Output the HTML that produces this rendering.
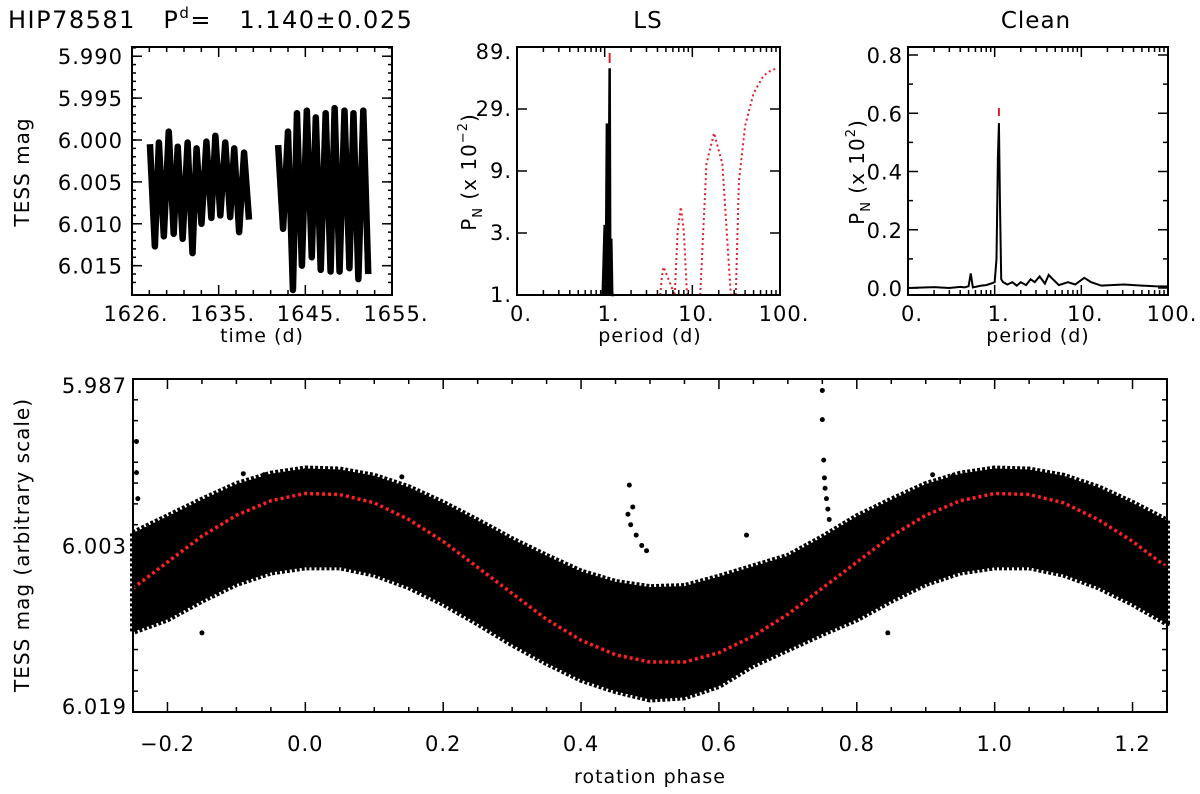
<!DOCTYPE html>
<html><head><meta charset="utf-8"><style>
html,body{margin:0;padding:0;background:#fff}
svg{display:block;font-family:"DejaVu Sans","Liberation Sans",sans-serif}
</style></head><body>
<svg id="fig" width="1200" height="794" viewBox="0 0 1200 794">
<text x="8" y="28" font-size="24" letter-spacing="1.5">HIP78581&#160;&#160;&#160;P<tspan font-size="15" dy="-10">d</tspan><tspan dy="10">=&#160;&#160;&#160;1.140±0.025</tspan></text>
<text x="648" y="28" font-size="23" letter-spacing="1" text-anchor="middle">LS</text>
<text x="1036" y="28" font-size="23" letter-spacing="1" text-anchor="middle">Clean</text>
<g id="g"></g>
</svg>
<script>
// ---------- data ----------
const lcTimes1=[1628.0,1629.0,1630.1,1631.1,1632.2,1633.2,1634.3,1635.3,1636.4,1637.4,1638.5];
const lcTop1=[6.0005,6.0003,5.9990,6.0008,6.0003,6.0010,6.0002,5.9995,6.0003,6.0010,6.0015];
const lcBot1=[6.0127,6.0115,6.0112,6.0118,6.0135,6.0100,6.0093,6.0090,6.0092,6.0110,6.0095];
const lcTimes2=[1642.3,1643.4,1644.4,1645.5,1646.5,1647.6,1648.6,1649.7,1650.7,1651.8];
const lcTop2=[6.0006,5.9990,5.9968,5.9965,5.9973,5.9968,5.9962,5.9965,5.9968,5.9965];
const lcBot2=[6.0106,6.0179,6.0150,6.0140,6.0155,6.0157,6.0157,6.0153,6.0166,6.0160];
const timeTicks=["1626.","1635.","1645.","1655."];
const magTicks=[5.990,5.995,6.000,6.005,6.010,6.015];

const lsPeriod=[0.95,1.0,1.03,1.06,1.09,1.12,1.14,1.16,1.19,1.22,1.25,1.28];
const lsPower=[1,3.6,1,23,1,8.5,63,1,2.8,1,1,1];
const lsArc1P=[4.3,4.5,4.7,5.2,6.3];const lsArc1V=[1,1.4,1.67,1.4,1];
const lsArc2P=[6.3,6.8,7.4,8.0,8.7];const lsArc2V=[1,3.2,5.0,3.2,1];
const lsArc3P=[12.3,14.5,17.7,22,27.5];const lsArc3V=[1,11,19.3,11,1];
const lsArc4P=[31.3,34,40,50,65,80,95];const lsArc4V=[1,8,22,40,55,61,63];
const lsTicks=["1.","3.","9.","29.","89."];
const perTicks=["0.","1.","10.","100."];

const clPeriod=[0.1,0.2,0.3,0.4,0.45,0.5,0.53,0.56,0.6,0.7,0.8,0.9,1.0,1.05,1.09,1.12,1.15,1.19,1.25,1.4,1.6,1.8,2.0,2.3,2.6,2.9,3.3,3.8,4.2,4.7,5.5,7,8.5,10.8,13,17,22,31,45,70,100];
const clPower=[0.0,0.003,0.0,0.004,0.002,0.006,0.05,0.002,0.004,0.008,0.01,0.015,0.02,0.1,0.45,0.566,0.3,0.03,0.02,0.012,0.02,0.008,0.02,0.01,0.03,0.02,0.04,0.015,0.045,0.03,0.01,0.02,0.012,0.035,0.02,0.008,0.01,0.012,0.009,0.006,0.005];
const clTicks=["0.0","0.2","0.4","0.6","0.8"];

const phaseGrid=[-0.25,-0.2,-0.15,-0.1,-0.05,0,0.05,0.1,0.15,0.2,0.25,0.3,0.35,0.4,0.45,0.5,0.55,0.6,0.65,0.7,0.75,0.8,0.85,0.9,0.95,1.0,1.05,1.1,1.15,1.2,1.25];
const fitMag=[6.0071,6.0046,6.0021,6.0001,5.9987,5.9980,5.9981,5.9989,6.0005,6.0026,6.0051,6.0076,6.0101,6.0121,6.0135,6.0142,6.0142,6.0133,6.0117,6.0096,6.0071,6.0046,6.0021,6.0001,5.9987,5.9980,5.9981,5.9989,6.0005,6.0026,6.0051];
const upperMag=[6.0018,6.0002,5.9986,5.9971,5.9961,5.9956,5.9957,5.9963,5.9974,5.9989,6.0006,6.0024,6.0040,6.0055,6.0065,6.0070,6.0069,6.0060,6.0050,6.0040,6.0022,6.0002,5.9986,5.9971,5.9961,5.9956,5.9957,5.9963,5.9974,5.9989,6.0006];
const lowerMag=[6.0113,6.0101,6.0083,6.0067,6.0056,6.0051,6.0051,6.0058,6.0070,6.0086,6.0105,6.0125,6.0143,6.0159,6.0170,6.0178,6.0176,6.0165,6.0145,6.0130,6.0115,6.0101,6.0083,6.0067,6.0056,6.0051,6.0051,6.0058,6.0070,6.0086,6.0105];
const outPhase=[-0.15,-0.09,-0.06,0.0,0.02,0.14,0.47,0.468,0.472,0.475,0.48,0.488,0.495,0.64,0.75,0.75,0.752,0.753,0.754,0.756,0.758,0.76,0.845,0.91,0.94,1.0,1.02,-0.245,-0.245,-0.243];
const outMag=[6.0114,5.9961,5.9962,5.9958,5.9960,5.9964,5.9972,6.0000,6.0010,5.9993,6.0020,6.0030,6.0035,6.0020,5.9881,5.9909,5.9948,5.9965,5.9975,5.9985,5.9995,6.0005,6.0114,5.9962,5.9963,5.9958,5.9960,5.9930,5.9960,5.9985];
const phaseTicks=[-0.2,0.0,0.2,0.4,0.6,0.8,1.0,1.2];
const phMagTicks=["5.987","6.003","6.019"];

// ---------- helpers ----------
const NS="http://www.w3.org/2000/svg";
const G=document.getElementById('g');
function el(tag,attrs,parent){const e=document.createElementNS(NS,tag);for(const k in attrs)e.setAttribute(k,attrs[k]);(parent||G).appendChild(e);return e;}
function txt(x,y,s,size,anchor,parent){const t=el('text',{x:x,y:y,'font-size':size,'text-anchor':anchor||'middle','letter-spacing':1},parent);t.textContent=s;return t;}
function lin(d0,d1,r0,r1){return v=>r0+(v-d0)*(r1-r0)/(d1-d0);}
function box(L,T,R,B,name){const r=el('rect',{x:L,y:T,width:R-L,height:B-T,fill:'none',stroke:'#000','stroke-width':2});

}
function tickX(x,T,B,len){el('line',{x1:x,x2:x,y1:B,y2:B-len,stroke:'#000','stroke-width':1.5});el('line',{x1:x,x2:x,y1:T,y2:T+len,stroke:'#000','stroke-width':1.5});}
function tickY(y,L,R,len){el('line',{x1:L,x2:L+len,y1:y,y2:y,stroke:'#000','stroke-width':1.5});el('line',{x1:R,x2:R-len,y1:y,y2:y,stroke:'#000','stroke-width':1.5});}

// ---------- panel 1: light curve ----------
{
const L=132,T=47,R=392,B=295;
const xs=lin(1626,1655,L,R), ys=lin(5.9889,6.0185,T,B);
const g=el('g',{});


[[lcTimes1,lcTop1,lcBot1],[lcTimes2,lcTop2,lcBot2]].forEach(([t,tp,bt],si)=>{
 let pts=[];
 t.forEach((ti,i)=>{pts.push(xs(ti)+','+ys(tp[i]));pts.push(xs(ti+0.55)+','+ys(bt[i]));});
 const p=el('polyline',{points:pts.join(' '),fill:'none',stroke:'#000','stroke-width':6.5,'stroke-linejoin':'round'},g);
 
 
});
box(L,T,R,B,'light-curve-frame');
for(let i=0;i<4;i++){const x=L+i*(R-L)/3;tickX(x,T,B,10);const t=txt(x+4,321,timeTicks[i],21);


for(let k=1;k<5&&i<3;k++)tickX(x+k*(R-L)/15,T,B,5);}
magTicks.forEach(m=>{const y=ys(m);tickY(y,L,R,10);const t=txt(L-9,y+8,m.toFixed(3),21,'end');

});
for(let m=5.989;m<6.018;m+=0.001){tickY(ys(m),L,R,4);}
let t=txt(262,342,'time (d)',19);
t=txt(0,0,'TESS mag',20);t.setAttribute('transform','translate(29,172) rotate(-90)');

}

// ---------- panel 2: LS ----------
{
const L=517,T=47,R=780,B=295;
const xs=p=>L+(Math.log10(p)+1)*(R-L)/3;
const ys=v=>B-Math.log10(v)*126;
const pk=el('polyline',{points:lsPeriod.map((p,i)=>xs(p)+','+ys(lsPower[i])).join(' '),fill:'none',stroke:'#000','stroke-width':2.5});


[[lsArc1P,lsArc1V],[lsArc2P,lsArc2V],[lsArc3P,lsArc3V],[lsArc4P,lsArc4V]].forEach(([P,V],i)=>{
 const a=el('polyline',{points:P.map((p,j)=>xs(p)+','+ys(V[j])).join(' '),fill:'none',stroke:'#e0202a','stroke-width':2,'stroke-dasharray':'2 3'});
 
 
});
const mk=el('line',{x1:xs(1.14),x2:xs(1.14),y1:53,y2:63,stroke:'#e0202a','stroke-width':2});

box(L,T,R,B,'ls-frame');
for(let i=0;i<4;i++){const x=L+i*(R-L)/3;tickX(x,T,B,10);const t=txt(x+4,321,perTicks[i],21);

if(i<3)for(let k=2;k<10;k++)tickX(x+Math.log10(k)*(R-L)/3,T,B,5);}
lsTicks.forEach((s,i)=>{const y=B-i*62;tickY(y,L,R,10);const t=txt(L-5,y+(i==4?12:7),s,21,'end');
});
let t=txt(650,342,'period (d)',19);
t=el('text',{'font-size':20,'text-anchor':'middle','letter-spacing':1,transform:'translate(476,172) rotate(-90)'});
t.innerHTML='P<tspan font-size="13" dy="6">N</tspan><tspan dy="-6">  (x 10</tspan><tspan font-size="13" dy="-9">−2</tspan><tspan dy="9">)</tspan>';

}

// ---------- panel 3: Clean ----------
{
const L=908,T=47,R=1168,B=295;
const xs=p=>L+(Math.log10(p)+1)*(R-L)/3;
const ys=lin(0,0.8,288,55);
const pk=el('polyline',{points:clPeriod.map((p,i)=>xs(p)+','+ys(clPower[i])).join(' '),fill:'none',stroke:'#000','stroke-width':2});

const mk=el('line',{x1:xs(1.12),x2:xs(1.12),y1:108,y2:116,stroke:'#e0202a','stroke-width':2});

box(L,T,R,B,'clean-frame');
for(let i=0;i<4;i++){const x=L+i*(R-L)/3;tickX(x,T,B,10);const t=txt(x+4,321,perTicks[i],21);

if(i<3)for(let k=2;k<10;k++)tickX(x+Math.log10(k)*(R-L)/3,T,B,5);}
clTicks.forEach((s,i)=>{const y=ys(i*0.2);tickY(y,L,R,10);const t=txt(L-5,y+8,s,21,'end');

if(i<4)tickY(ys(i*0.2+0.1),L,R,5);});
let t=txt(1038,342,'period (d)',19);
t=el('text',{'font-size':20,'text-anchor':'middle','letter-spacing':1,transform:'translate(864,172) rotate(-90)'});
t.innerHTML='P<tspan font-size="13" dy="6">N</tspan><tspan dy="-6">  (x 10</tspan><tspan font-size="13" dy="-9">2</tspan><tspan dy="9">)</tspan>';

}

// ---------- panel 4: phase plot ----------
{
const L=133,T=379,R=1167,B=712;
const xs=lin(-0.25,1.25,L,R), ys=lin(5.987,6.019,T,B);
const up=phaseGrid.map((p,i)=>xs(p)+','+ys(upperMag[i]));
const lo=phaseGrid.map((p,i)=>xs(p)+','+ys(lowerMag[i])).reverse();
const band=el('polygon',{points:up.concat(lo).join(' '),fill:'#000',stroke:'#000','stroke-width':6,'stroke-linejoin':'round','stroke-dasharray':'3 2'});

outPhase.forEach((p,i)=>{const c=el('circle',{cx:xs(p),cy:ys(outMag[i]),r:2.5,fill:'#000'});
});
const fit=el('polyline',{points:phaseGrid.map((p,i)=>xs(p)+','+ys(fitMag[i])).join(' '),fill:'none',stroke:'#ff2020','stroke-width':3.5,'stroke-dasharray':'3 3'});

box(L,T,R,B,'phase-frame');
for(let p=-0.2;p<1.26;p+=0.05){const major=Math.abs(Math.round(p*10)/10-p)<1e-6&&Math.round(p*10)%2==0;tickX(xs(p),T,B,major?10:5);}
phaseTicks.forEach(p=>{const t=txt(xs(p),751,(p<0?'−':'')+Math.abs(p).toFixed(1),21);
});
phMagTicks.forEach((s,i)=>{const y=ys(parseFloat(s));tickY(y,L,R,10);const t=txt(L-6,y+(i==0?14:i==2?2:8),s,21,'end');
});
for(let m=5.989;m<6.019;m+=0.002)tickY(ys(m),L,R,5);
let t=txt(650,783,'rotation phase',19);
t=txt(0,0,'TESS mag (arbitrary scale)',20);t.setAttribute('transform','translate(29,545) rotate(-90)');

}
</script>
</body></html>
